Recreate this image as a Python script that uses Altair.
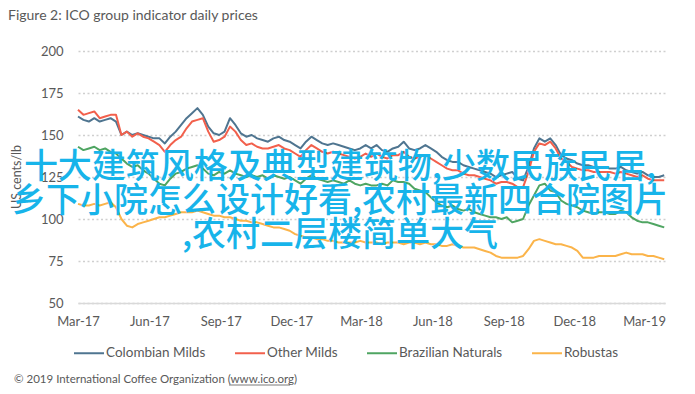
import altair as alt
import pandas as pd

title_text = "Figure 2: ICO group indicator daily prices"
y_title = "US cents/lb"
footer_text = "© 2019 International Coffee Organization (www.ico.org)"
overlay_lines = ["十大建筑风格及典型建筑物,少数民族民居,",
                 "乡下小院怎么设计好看,农村最新四合院图片",
                 ",农村二层楼简单大气"]

series_names = ["Colombian Milds", "Other Milds", "Brazilian Naturals", "Robustas"]
series_colors = ["#4f7590", "#f2604c", "#4fa562", "#fbb44a"]

start_date = "2017-03-01"
step = "7D"

colombian = [161,159,158,160,158,159,160,158,150,152,
             150,151,150,149,148,148,145,149,152,156,
             160,163,166,162,155,151,150,152,160,156,
             151,149,150,148,147,146,148,149,147,146,
             144,142,146,149,147,145,144,145,144,143,
             142,141,142,144,142,144,141,140,142,143,
             146,142,141,142,144,142,140,137,135,134,
             134,132,131,130,129,128,127,125,126,127,
             128,124,123,131,142,148,146,148,144,138,
             136,135,133,132,132,131,131,131,130,130,
             131,129,128,127,128,126,125,125,126]
other = [165,162,163,164,160,161,162,162,150,152,
         149,151,149,148,146,144,140,144,147,149,
         154,158,159,160,152,146,147,149,155,152,
         147,144,145,143,142,142,143,144,142,141,
         139,137,141,144,142,140,139,140,139,138,
         137,136,137,139,137,139,137,136,138,138,
         140,137,136,137,138,136,134,132,130,129,
         129,127,126,126,125,124,123,121,122,122,
         121,119,119,128,140,145,144,146,142,136,
         134,131,130,129,129,128,128,128,128,127,
         128,127,126,125,126,124,123,123,123]
brazilian = [143,141,142,143,141,142,140,139,136,133,
             131,132,129,127,124,121,120,124,127,128,
             130,131,132,130,127,126,128,127,129,127,
             126,125,126,125,126,124,126,125,124,125,
             123,121,124,126,124,123,122,123,122,121,
             123,121,120,121,120,120,121,120,123,122,
             122,121,118,117,116,113,110,108,107,108,
             106,105,106,104,103,102,101,101,100,101,
             98,99,100,108,114,120,121,117,116,111,
             109,108,107,105,104,103,104,104,103,103,
             105,104,101,99,98,98,97,96,95]
robustas = [109,108,108,109,108,109,110,107,100,96,
            95,97,98,99,100,101,101,102,103,104,
            104,104,105,104,103,102,102,101,101,100,
            99,99,98,98,97,96,95,95,94,93,
            91,90,89,89,88,88,87,87,86,86,
            86,86,87,86,86,86,85,86,86,86,
            85,86,86,85,86,85,85,84,84,85,
            84,83,83,83,82,81,80,78,77,77,
            77,77,78,82,87,88,87,86,85,85,
            84,83,81,77,77,77,78,78,78,78,
            79,80,79,79,79,78,78,77,76]

dates = pd.date_range(start_date, periods=len(colombian), freq=step).strftime("%Y-%m-%d")
frames = []
for name, vals in zip(series_names, [colombian, other, brazilian, robustas]):
    frames.append(pd.DataFrame({"date": dates, "value": vals, "series": name,
                                "order": series_names.index(name)}))
df = pd.concat(frames, ignore_index=True)

tick_dates = [alt.DateTime(year=y, month=m, date=1, utc=True)
              for y, m in [(2017, 3), (2017, 6), (2017, 9), (2017, 12), (2018, 3),
                           (2018, 6), (2018, 9), (2018, 12), (2019, 3)]]

FONT = "Lato"
GREY = "#595959"

lines = alt.Chart(df).mark_line(strokeWidth=2, strokeJoin="round").encode(
    x=alt.X("date:T",
            scale=alt.Scale(type="utc",
                            domain=[alt.DateTime(year=2017, month=3, date=1, utc=True),
                                    alt.DateTime(year=2019, month=3, date=28, utc=True)]),
            axis=alt.Axis(values=tick_dates, labelExpr="utcFormat(datum.value, '%b-%y')",
                          title=None, grid=False, ticks=False, tickSize=0, labelPadding=12,
                          labelFlush=False, labelOverlap=False,
                          domainColor="#d9d9d9", domainWidth=1.5,
                          labelFont=FONT, labelFontSize=13, labelColor=GREY)),
    y=alt.Y("value:Q", scale=alt.Scale(domain=[50, 200], nice=False, zero=False),
            axis=alt.Axis(values=[50, 75, 100, 125, 150, 175, 200], title=None,
                          domain=False, ticks=False, tickSize=0, labelPadding=15,
                          grid=True, gridDash=[2, 2.5], gridColor="#cfcfcf", gridWidth=1.3,
                          labelFont=FONT, labelFontSize=13, labelColor=GREY)),
    color=alt.Color("series:N",
                    scale=alt.Scale(domain=series_names, range=series_colors),
                    legend=alt.Legend(orient="none", legendX=-5, legendY=286,
                                      direction="horizontal", title=None,
                                      symbolType="stroke", symbolSize=900,
                                      symbolStrokeWidth=2, labelOffset=1,
                                      columnPadding=25, labelFont=FONT,
                                      labelFontSize=13.5, labelColor=GREY)),
    order=alt.Order("order:Q"),
    detail="series:N",
)


def text_layer(txt, x, y, **kw):
    return alt.Chart(pd.DataFrame({"t": [txt]})).mark_text(**kw).encode(
        text="t:N", x=alt.value(x), y=alt.value(y))


title = text_layer(title_text, -70, -31, align="left", baseline="alphabetic",
                   font=FONT, fontSize=14, color=GREY)
ytitle = text_layer(y_title, -61, 126, align="center", baseline="middle", angle=270,
                    font=FONT, fontSize=12.5, color=GREY)
footer = text_layer(footer_text, -64, 332, align="left", baseline="alphabetic",
                    font=FONT, fontSize=11.5, color=GREY)
underline = alt.Chart(pd.DataFrame({"t": ["www.ico.org"]})).mark_rule(
    color=GREY, strokeWidth=0.8).encode(
    x=alt.value(151), x2=alt.value(212), y=alt.value(334))

overlay = [text_layer(t, 262, yy, align="center", baseline="middle",
                      font="Noto Sans CJK SC", fontSize=34, fontWeight=500,
                      color="#17b4ea")
           for t, yy in zip(overlay_lines, [117, 151, 185])]

chart = alt.layer(lines, title, ytitle, footer, underline, *overlay).properties(
    width=587, height=252,
    padding={"left": 70, "top": 43, "right": 22, "bottom": 83},
    autosize=alt.AutoSizeParams(type="none"),
).configure_view(stroke=None)

chart.save("out.html", embed_options={"renderer": "svg", "actions": False})
